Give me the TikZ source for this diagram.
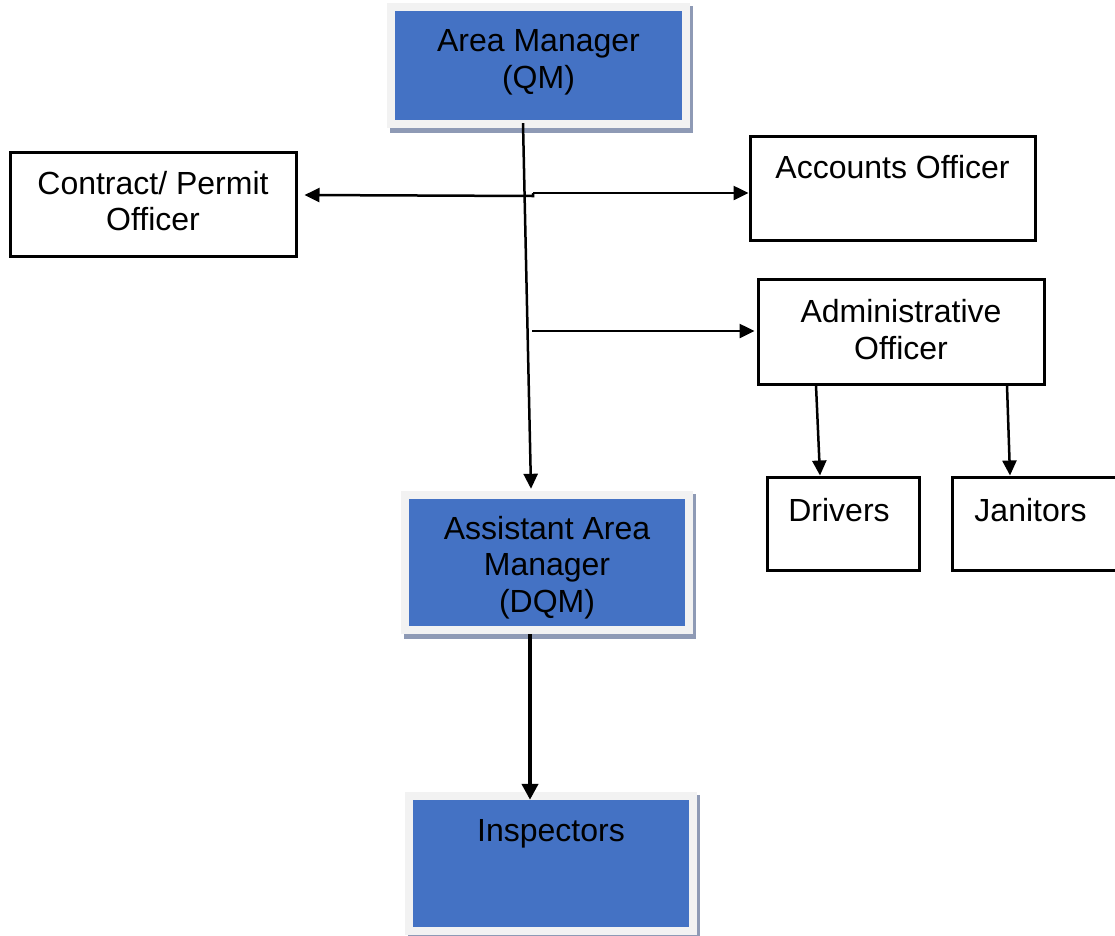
\documentclass[tikz,border=0pt]{standalone}
\usepackage{fontspec}
\setmainfont{Liberation Sans}
\usetikzlibrary{arrows.meta,backgrounds}
\definecolor{boxblue}{HTML}{4472C4}
\definecolor{framegray}{HTML}{F2F2F2}
\definecolor{shadowc}{HTML}{8E9AB5}
\begin{document}
\begin{tikzpicture}[x=1pt,y=-1pt,
  txt/.style={font=\fontsize{32}{36.5}\selectfont, inner sep=0pt},
  wbox/.style={txt, draw=black, line width=3pt, fill=white},
  bbox/.style={txt, fill=boxblue},
  conn/.style={line width=2.5pt, -{Triangle[length=15pt,width=14pt]}},
  thickconn/.style={line width=4pt, -{Triangle[length=16pt,width=16pt]}}]
\useasboundingbox (0,0) rectangle (1115,935);

% blue boxes
\node[bbox, minimum width=287pt, minimum height=109pt, align=center] (am) at (538.5,65.5) {Area Manager\\(QM)\rule[-12.6pt]{0pt}{0pt}};
\node[bbox, minimum width=276pt, minimum height=127pt, align=center] (aam) at (547,562.5) {\rule{0pt}{33pt}Assistant Area\\Manager\\(DQM)};
\node[bbox, minimum width=276pt, text height=41.3pt, text depth=85.7pt] (insp) at (551,863.5) {Inspectors};

% white boxes
\node[wbox, minimum width=286pt, minimum height=104pt, align=center] (cp) at (153,204) {Contract/ Permit\\Officer\rule[-6pt]{0pt}{0pt}};
\node[wbox, minimum width=285pt, text height=42.3pt, text depth=61.7pt] (ao) at (892.5,188) {Accounts Officer};
\node[wbox, minimum width=286pt, minimum height=105pt, align=center] (adm) at (901,331.5) {Administrative\\Officer\rule[-4pt]{0pt}{0pt}};
\node[wbox, minimum width=152pt, text height=44.3pt, text depth=48.7pt] (drv) at (843,523.5) {Drivers\hspace*{8pt}};
\node[wbox, minimum width=166pt, text height=44.3pt, text depth=48.7pt] (jan) at (1035,523.5) {Janitors\hspace*{9pt}};

% frames and shadows of the blue boxes
\begin{pgfonlayer}{background}
\foreach \n in {am,aam,insp}{
  \fill[shadowc] ([shift={(-5,-5)}]\n.north west) rectangle ([shift={(11,13)}]\n.south east);
  \fill[framegray] ([shift={(-8,-8)}]\n.north west) rectangle ([shift={(8,8)}]\n.south east);
}
\end{pgfonlayer}

% junctions on the main line
\coordinate (jl) at (533,196);
\coordinate (jr) at (533,193);
\coordinate (ja) at (532,331);

% connectors
\draw[conn] ([xshift=-15.5pt,yshift=-3pt]am.south) -- ([xshift=-16pt,yshift=10pt]aam.north);
\draw[conn] (jr) -- (jl) -- ([shift={(7,-9)}]cp.east);
\draw[conn] (jr) -- ([shift={(0,5)}]ao.west);
\draw[conn] (ja) -- ([shift={(-2,-0.5)}]adm.west);
\draw[conn] ([xshift=-85pt]adm.south) -- ([xshift=-23pt]drv.north);
\draw[conn] ([xshift=106pt]adm.south) -- ([xshift=-25pt]jan.north);
\draw[thickconn] ([xshift=-17pt,yshift=-8pt]aam.south) -- ([xshift=-21pt]insp.north);
\end{tikzpicture}
\end{document}
